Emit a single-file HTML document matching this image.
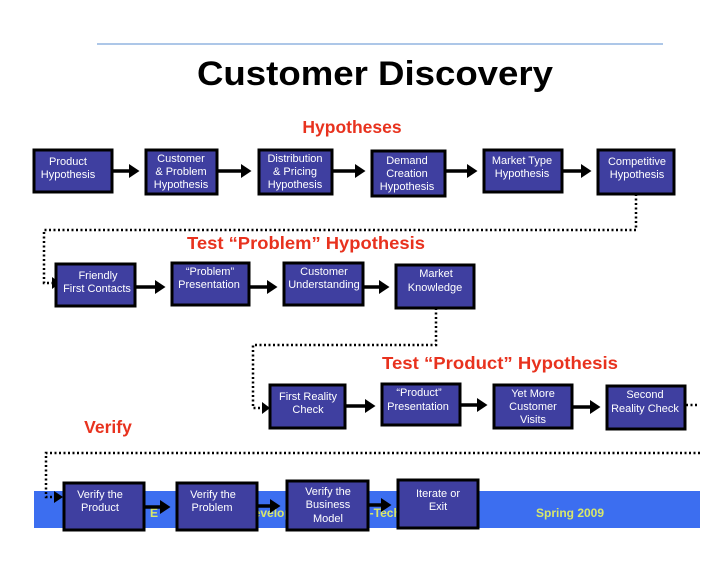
<!DOCTYPE html>
<html><head><meta charset="utf-8"><style>
body{margin:0;background:#fff;}
svg{display:block;font-family:"Liberation Sans",Arial,sans-serif;}
.b{fill:#3f3fa0;stroke:#000;stroke-width:3;}
.t{fill:#fff;font-size:11px;text-anchor:middle;}
.a{stroke:#000;stroke-width:3.5;}
.d{stroke:#000;stroke-width:2.5;stroke-dasharray:2 2.5;fill:none;}
.r{fill:#e8321e;font-weight:bold;font-size:17.5px;text-anchor:middle;}
</style></head><body>
<svg width="728" height="563" viewBox="0 0 728 563">
<defs><marker id="m" markerWidth="4" markerHeight="4" refX="2" refY="2" orient="auto" markerUnits="strokeWidth"><path d="M0,0L3,2L0,4z" fill="#000"/></marker></defs>
<line x1="97" y1="44" x2="663" y2="44" stroke="#5b8fd0" stroke-width="1"/>
<text x="375" y="85" font-size="34" font-weight="bold" text-anchor="middle" textLength="356" lengthAdjust="spacingAndGlyphs">Customer Discovery</text>
<text class="r" x="352" y="133">Hypotheses</text>
<text class="r" x="306" y="249" textLength="238" lengthAdjust="spacingAndGlyphs">Test “Problem” Hypothesis</text>
<text class="r" x="500" y="369" textLength="236" lengthAdjust="spacingAndGlyphs">Test “Product” Hypothesis</text>
<text class="r" x="108" y="433">Verify</text>
<rect x="34" y="491" width="666" height="37" fill="#3c6ef0"/>
<text x="150" y="517" fill="#d9e86a" font-size="12" font-weight="bold">E</text>
<text x="245" y="517" fill="#d9e86a" font-size="12" font-weight="bold">Development for High-Tech Enterprise</text>
<text x="536" y="517" fill="#d9e86a" font-size="12" font-weight="bold">Spring 2009</text>
<path class="d" d="M636,194 V230 H44 V283 H52"/>
<path class="d" d="M436,308 V345 H253 V408 H262"/>
<path class="d" d="M686,405 H697"/>
<path class="d" d="M700,453 H46 V497 H54"/>
<polygon points="52,277 60,283 52,289"/>
<polygon points="262,402 270,408 262,414"/>
<polygon points="54,491 63,497 54,503"/>
<line class="a" x1="113" y1="171" x2="136" y2="171" marker-end="url(#m)"/>
<line class="a" x1="218" y1="171" x2="248" y2="171" marker-end="url(#m)"/>
<line class="a" x1="333" y1="171" x2="362" y2="171" marker-end="url(#m)"/>
<line class="a" x1="446" y1="171" x2="474" y2="171" marker-end="url(#m)"/>
<line class="a" x1="563" y1="171" x2="588" y2="171" marker-end="url(#m)"/>
<line class="a" x1="136" y1="287" x2="162" y2="287" marker-end="url(#m)"/>
<line class="a" x1="250" y1="287" x2="274" y2="287" marker-end="url(#m)"/>
<line class="a" x1="364" y1="287" x2="386" y2="287" marker-end="url(#m)"/>
<line class="a" x1="346" y1="406" x2="372" y2="406" marker-end="url(#m)"/>
<line class="a" x1="461" y1="405" x2="484" y2="405" marker-end="url(#m)"/>
<line class="a" x1="573" y1="407" x2="597" y2="407" marker-end="url(#m)"/>
<line class="a" x1="145" y1="507" x2="167" y2="507" marker-end="url(#m)"/>
<line class="a" x1="258" y1="506" x2="277" y2="506" marker-end="url(#m)"/>
<line class="a" x1="369" y1="505" x2="388" y2="505" marker-end="url(#m)"/>
<rect class="b" x="34" y="150" width="78" height="42"/><text class="t"><tspan x="68" y="165">Product</tspan><tspan x="68" y="178">Hypothesis</tspan></text>
<rect class="b" x="146" y="150" width="71" height="44"/><text class="t"><tspan x="181" y="162">Customer</tspan><tspan x="181" y="175">&amp; Problem</tspan><tspan x="181" y="188">Hypothesis</tspan></text>
<rect class="b" x="259" y="150" width="73" height="44"/><text class="t"><tspan x="295" y="162">Distribution</tspan><tspan x="295" y="175">&amp; Pricing</tspan><tspan x="295" y="188">Hypothesis</tspan></text>
<rect class="b" x="372" y="151" width="73" height="45"/><text class="t"><tspan x="407" y="164">Demand</tspan><tspan x="407" y="177">Creation</tspan><tspan x="407" y="190">Hypothesis</tspan></text>
<rect class="b" x="484" y="150" width="78" height="42"/><text class="t"><tspan x="522" y="164">Market Type</tspan><tspan x="522" y="177">Hypothesis</tspan></text>
<rect class="b" x="598" y="150" width="76" height="44"/><text class="t"><tspan x="637" y="165">Competitive</tspan><tspan x="637" y="178">Hypothesis</tspan></text>
<rect class="b" x="56" y="264" width="79" height="42"/><text class="t"><tspan x="98" y="279">Friendly</tspan><tspan x="97" y="292">First Contacts</tspan></text>
<rect class="b" x="172" y="263" width="77" height="42"/><text class="t"><tspan x="210" y="275">“Problem”</tspan><tspan x="209" y="288">Presentation</tspan></text>
<rect class="b" x="284" y="263" width="79" height="42"/><text class="t"><tspan x="324" y="275">Customer</tspan><tspan x="324" y="288">Understanding</tspan></text>
<rect class="b" x="396" y="265" width="78" height="43"/><text class="t"><tspan x="436" y="277">Market</tspan><tspan x="435" y="291">Knowledge</tspan></text>
<rect class="b" x="270" y="385" width="75" height="43"/><text class="t"><tspan x="308" y="400">First Reality</tspan><tspan x="308" y="413">Check</tspan></text>
<rect class="b" x="382" y="384" width="78" height="41"/><text class="t"><tspan x="419" y="396">“Product”</tspan><tspan x="418" y="410">Presentation</tspan></text>
<rect class="b" x="494" y="385" width="78" height="43"/><text class="t"><tspan x="533" y="397">Yet More</tspan><tspan x="533" y="410">Customer</tspan><tspan x="533" y="423">Visits</tspan></text>
<rect class="b" x="607" y="386" width="78" height="43"/><text class="t"><tspan x="645" y="398">Second</tspan><tspan x="645" y="412">Reality Check</tspan></text>
<rect class="b" x="64" y="483" width="80" height="47"/><text class="t"><tspan x="100" y="498">Verify the</tspan><tspan x="100" y="511">Product</tspan></text>
<rect class="b" x="177" y="483" width="80" height="47"/><text class="t"><tspan x="213" y="498">Verify the</tspan><tspan x="212" y="511">Problem</tspan></text>
<rect class="b" x="287" y="481" width="81" height="49"/><text class="t"><tspan x="328" y="495">Verify the</tspan><tspan x="328" y="508">Business</tspan><tspan x="328" y="522">Model</tspan></text>
<rect class="b" x="398" y="480" width="80" height="48"/><text class="t"><tspan x="438" y="497">Iterate or</tspan><tspan x="438" y="510">Exit</tspan></text>
</svg>
</body></html>
